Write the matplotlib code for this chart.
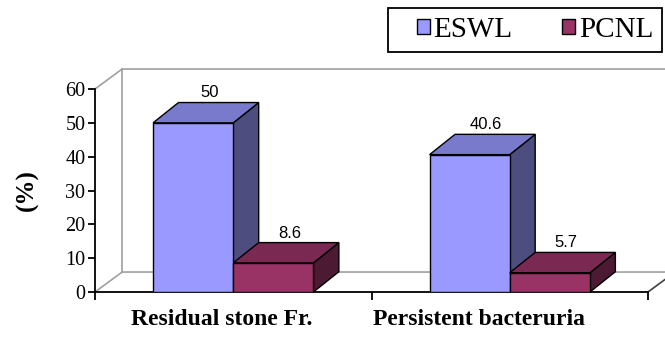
import matplotlib
matplotlib.use('Agg')
import matplotlib.pyplot as plt
from matplotlib.patches import Polygon, Patch, Rectangle
import numpy as np

categories = ['Residual stone Fr.', 'Persistent bacteruria']
series = ['ESWL', 'PCNL']
eswl = [50, 40.6]
pcnl = [8.6, 5.7]
value_labels = [['50', '40.6'], ['8.6', '5.7']]

front_colors = ['#9999FF', '#993366']
top_colors = ['#7A7ACC', '#7A2952']
side_colors = ['#4D4D80', '#4D1A33']

serif = 'Liberation Serif'
sans = 'Liberation Sans'

fig = plt.figure(figsize=(6.65, 3.38), dpi=100)
ax = fig.add_axes([95 / 665, 46 / 338, 553 / 665, 203 / 338])
ax.set_xlim(0, 2)
ax.set_ylim(0, 60)

# depth of the 3d box (in data units)
wdx, wdy = 0.098, 5.9
bdx, bdy = 0.092, 6.0
wall = '#A0A0A0'

# back wall and floor outline
ax.plot([0, wdx, 2.2], [60, 60 + wdy, 60 + wdy], color=wall, lw=1.2, clip_on=False)
ax.plot([wdx, wdx], [wdy, 60 + wdy], color=wall, lw=1.2, clip_on=False)
ax.plot([0, wdx, 2.2], [0, wdy, wdy], color=wall, lw=1.2, clip_on=False)
ax.plot([2, 2 + wdx * 0.7], [0, wdy * 0.7], color='#404040', lw=1.2, clip_on=False)

width = 0.29
x = np.arange(len(categories))
for s, vals in enumerate([eswl, pcnl]):
    for i, h in enumerate(vals):
        x0 = x[i] + 0.21 + s * width
        x1 = x0 + width
        z = 3 + s * 0.5 + i
        ax.bar(x0, h, width=width, align='edge', color=front_colors[s],
               edgecolor='black', lw=1.0, zorder=z)
        top = Polygon([(x0, h), (x1, h), (x1 + bdx, h + bdy), (x0 + bdx, h + bdy)],
                      closed=True, facecolor=top_colors[s], edgecolor='black',
                      lw=1.0, zorder=z, clip_on=False)
        side = Polygon([(x1, 0), (x1 + bdx, bdy), (x1 + bdx, h + bdy), (x1, h)],
                       closed=True, facecolor=side_colors[s], edgecolor='black',
                       lw=1.0, zorder=z - 0.1, clip_on=False)
        ax.add_patch(side)
        ax.add_patch(top)
        ax.annotate(value_labels[s][i], (x0 + width / 2 + bdx * 0.65, h + bdy),
                    xytext=(0, 1.5), textcoords='offset points', ha='center',
                    va='bottom', fontsize=12, family=sans, zorder=10)

for sp in ['top', 'right']:
    ax.spines[sp].set_visible(False)
ax.spines['left'].set_linewidth(1.3)
ax.spines['bottom'].set_linewidth(1.3)
ax.set_yticks(np.arange(0, 61, 10))
ax.set_yticklabels([str(v) for v in range(0, 61, 10)], family=serif, fontsize=14.5)
ax.tick_params(axis='y', direction='out', length=5, width=1.3, pad=2)
ax.set_xticks([0, 1, 2])
ax.set_xticklabels([])
ax.tick_params(axis='x', direction='out', length=6, width=1.3)
ax.set_facecolor('none')

label_x = [0.459, 1.389]
for lx, name in zip(label_x, categories):
    ax.text(lx, -0.085, name, transform=ax.get_xaxis_transform(), ha='center',
            va='top', family=serif, fontweight='bold', fontsize=17)

fig.text(27 / 665, 1 - 190 / 338, '(%)', rotation=90, ha='center', va='center',
         family=serif, fontweight='bold', fontsize=18)

# legend box
fig.patches.append(Rectangle((388 / 665, 1 - 52 / 338), 274 / 665, 44 / 338,
                             transform=fig.transFigure, facecolor='white',
                             edgecolor='black', lw=1.3, zorder=1))
handles = [Patch(facecolor=c, edgecolor='black', lw=1.0) for c in front_colors]
leg = fig.legend(handles, series, ncol=2, loc='center left',
                 bbox_to_anchor=(417 / 665, 1 - 30 / 338),
                 prop={'family': serif, 'size': 21}, frameon=False,
                 handlelength=0.45, handleheight=0.45, handletextpad=0.12,
                 columnspacing=1.7, borderpad=0, borderaxespad=0)
leg.set_zorder(5)

fig.savefig('out.png', dpi=100)
